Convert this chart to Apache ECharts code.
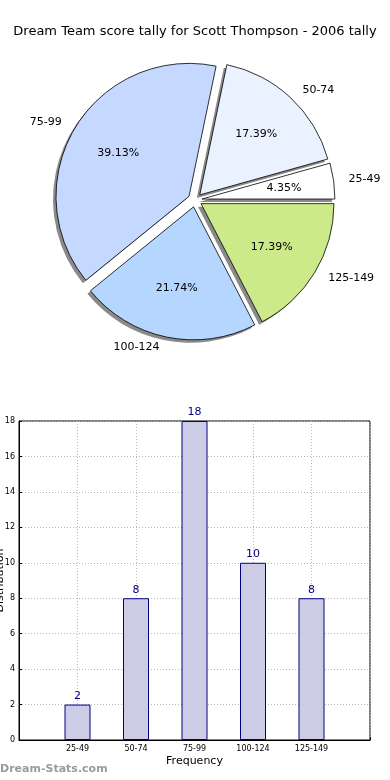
<!DOCTYPE html>
<html>
<head>
<meta charset="utf-8">
<script src="https://cdn.jsdelivr.net/npm/echarts@6/dist/echarts.min.js"></script>
<style>
html,body{margin:0;padding:0;background:#fff;}
#c{width:390px;height:780px;}
</style>
</head>
<body>
<div id="c"></div>
<script>
var titleText = 'Dream Team score tally for Scott Thompson - 2006 tally';
var categories = ['25-49', '50-74', '75-99', '100-124', '125-149'];
var counts = [2, 8, 18, 10, 8];
var yTicks = [0, 2, 4, 6, 8, 10, 12, 14, 16, 18];
var xAxisName = 'Frequency';
var yAxisName = 'Distribution';
var watermark = 'Dream-Stats.com';

var pieColors = ['#ffffff', '#eaf1ff', '#c5d8ff', '#b5d6ff', '#cdea8b'];
var FONT = 'DejaVu Sans';
var total = counts.reduce(function (a, b) { return a + b; }, 0);
var CX = 195, CY = 200, R = 133, OFF = 7;

function makePie(extra) {
  return categories.map(function (c, i) {
    var d = { name: c, value: counts[i], selected: true };
    if (extra) d.itemStyle = { color: pieColors[i] };
    return d;
  });
}
var basePie = {
  type: 'pie', startAngle: 0, clockwise: false,
  selectedMode: 'multiple', selectedOffset: OFF,
  emphasis: { disabled: true }, silent: true, labelLine: { show: false }
};
function pie(o) { return Object.assign({}, basePie, o); }

var chart = echarts.init(document.getElementById('c'), null, { renderer: 'canvas' });
chart.setOption({
  animation: false,
  backgroundColor: '#fff',
  title: {
    text: titleText,
    left: 'center',
    top: 20,
    textStyle: { fontFamily: FONT, fontSize: 13, fontWeight: 'normal', color: '#000' }
  },
  graphic: [{
    type: 'text',
    left: 0,
    top: 764,
    style: { text: watermark, fill: '#9a9a9a', font: 'bold 11px "' + FONT + '"' }
  }],
  grid: {
    left: 19, right: 20, top: 421, bottom: 40,
    outerBoundsMode: 'none', containLabel: false,
    show: true, borderColor: '#000', borderWidth: 1
  },
  xAxis: {
    type: 'value', min: 0, max: categories.length + 1, interval: 1,
    name: xAxisName, nameLocation: 'middle', nameGap: 16, nameMoveOverlap: false,
    nameTextStyle: { fontFamily: FONT, fontSize: 11, color: '#000' },
    axisLine: { show: true, lineStyle: { color: '#000' } },
    axisTick: { show: true, inside: true, length: 3, lineStyle: { color: '#000' } },
    axisLabel: {
      fontFamily: FONT, fontSize: 8, color: '#000', margin: 5,
      formatter: function (v) { return (v >= 1 && v <= categories.length) ? categories[v - 1] : ''; }
    },
    splitLine: { show: true, lineStyle: { color: '#b8b8b8', type: [1, 2], width: 1 } }
  },
  yAxis: {
    type: 'value', min: yTicks[0], max: yTicks[yTicks.length - 1], interval: yTicks[1] - yTicks[0],
    name: yAxisName, nameLocation: 'middle', nameGap: 13, nameRotate: 90, nameMoveOverlap: false,
    nameTextStyle: { fontFamily: FONT, fontSize: 11, color: '#000' },
    axisLine: { show: true, lineStyle: { color: '#000' } },
    axisTick: { show: true, inside: true, length: 3, lineStyle: { color: '#000' } },
    axisLabel: { fontFamily: FONT, fontSize: 8, color: '#000', margin: 4 },
    splitLine: { show: true, lineStyle: { color: '#b8b8b8', type: [1, 2], width: 1 } }
  },
  series: [
    pie({
      center: [CX - 3, CY + 3], radius: R, z: 1,
      data: makePie(false),
      itemStyle: { color: '#8a8a8a', borderWidth: 0 },
      label: { show: false }
    }),
    pie({
      center: [CX, CY], radius: R, z: 2,
      data: makePie(true),
      itemStyle: { borderColor: '#000', borderWidth: 0.8 },
      select: { itemStyle: { borderColor: '#000', borderWidth: 0.8 } },
      label: { show: false }
    }),
    pie({
      center: [CX, CY], radius: R * 1.2, z: 3,
      data: makePie(false),
      itemStyle: { color: 'rgba(0,0,0,0)', borderWidth: 0 },
      label: {
        show: true, position: 'inside', fontFamily: FONT, fontSize: 11, color: '#000',
        formatter: function (p) { return (p.value / total * 100).toFixed(2) + '%'; }
      }
    }),
    pie({
      center: [CX, CY], radius: R, z: 3,
      data: makePie(false),
      itemStyle: { color: 'rgba(0,0,0,0)', borderWidth: 0 },
      label: {
        show: true, position: 'outside', fontFamily: FONT, fontSize: 11, color: '#000',
        formatter: '{b}'
      },
      labelLine: { show: false, length: 10, length2: 0 }
    }),
    {
      type: 'bar',
      barWidth: 26,
      data: counts.map(function (v, i) { return [i + 1, v]; }),
      itemStyle: { color: '#cccce6', borderColor: '#000080', borderWidth: 1 },
      label: {
        show: true, position: 'top', distance: 3, fontFamily: FONT, fontSize: 11, color: '#000080',
        formatter: function (p) { return p.value[1]; }
      },
      z: 3
    }
  ]
});
</script>
</body>
</html>
